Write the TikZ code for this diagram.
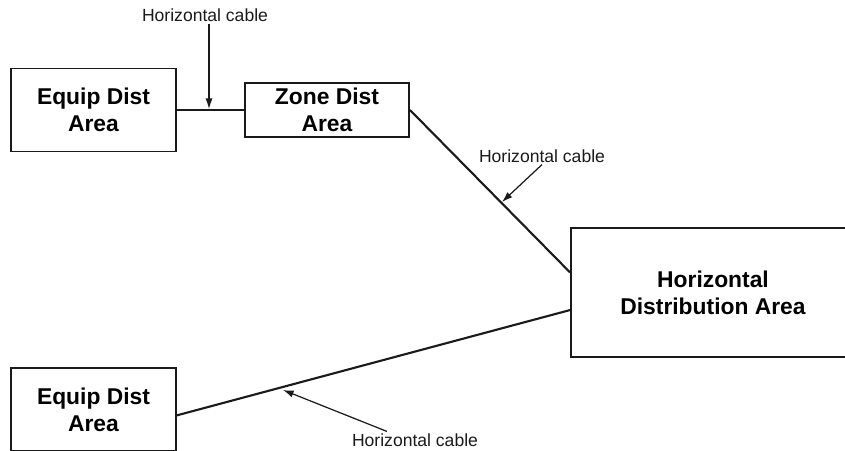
\documentclass[tikz,border=0pt]{standalone}
\usepackage{fontspec}
\setmainfont{Liberation Sans}
\usetikzlibrary{arrows.meta}
\definecolor{ink}{HTML}{1A1A1A}

\begin{document}
\begin{tikzpicture}[x=.02cm,y=-.02cm,
  area/.style={draw=ink,line width=1.1pt,align=center,inner sep=0pt,
    font=\fontsize{13}{15.5}\selectfont\bfseries},
  cable/.style={draw=ink,line width=1.2pt},
  note/.style={font=\fontsize{10}{12}\selectfont,text=ink,inner sep=1pt},
  pointer/.style={draw=ink,line width=.7pt,-{Latex[length=6pt,width=4pt]}}]
\useasboundingbox (0,0) rectangle (845,450);
% areas
\node[area,minimum width=165*.02cm,minimum height=83*.02cm] (eqtop) at (93.5,110) {Equip Dist\\Area};
\node[area,minimum width=164*.02cm,minimum height=54*.02cm] (zone) at (327,110) {Zone Dist\\Area};
\node[area,minimum width=284*.02cm,minimum height=129*.02cm] (hda) at (713,292.5) {Horizontal\\Distribution Area};
\node[area,minimum width=165*.02cm,minimum height=83*.02cm] (eqbot) at (93.5,409.5) {Equip Dist\\Area};
% cables
\draw[cable] (eqtop.east) -- (zone.west);
\draw[cable] (zone.east) -- (hda.172);
\draw[cable] (hda.187) -- (eqbot.356);
% labels
\node[note] (lab1) at (205,15) {Horizontal cable};
\node[note] (lab2) at (542,156) {Horizontal cable};
\node[note] (lab3) at (415,440) {Horizontal cable};
\coordinate (c1) at (209,109);
\coordinate (c2) at (502,202);
\coordinate (c3) at (283,390);
\draw[pointer] (c1 |- lab1.south) -- (c1);
\draw[pointer] (lab2.south) -- (c2);
\draw[pointer] (lab3.163) -- (c3);
\end{tikzpicture}
\end{document}
